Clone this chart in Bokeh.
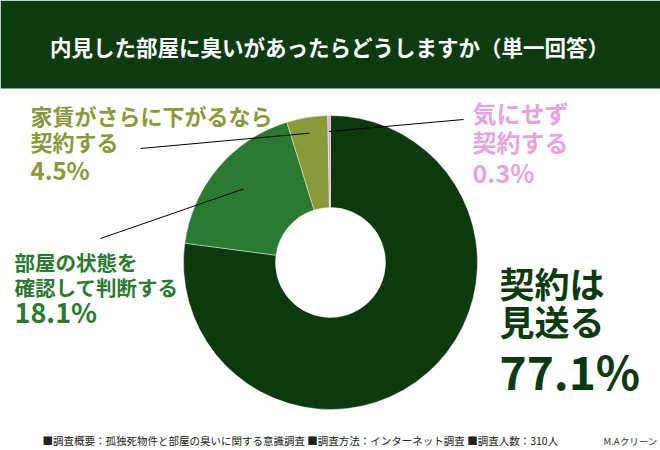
import numpy as np
from bokeh.plotting import figure
from bokeh.models import ColumnDataSource, Range1d
from bokeh.core.properties import value
from bokeh.embed import file_html
from bokeh.resources import INLINE

# ---------------- data ----------------
title = "内見した部屋に臭いがあったらどうしますか（単一回答）"
categories = ["契約は見送る", "部屋の状態を確認して判断する",
              "家賃がさらに下がるなら契約する", "気にせず契約する"]
label_lines = [["契約は", "見送る"],
               ["部屋の状態を", "確認して判断する"],
               ["家賃がさらに下がるなら", "契約する"],
               ["気にせず", "契約する"]]
values = [77.1, 18.1, 4.5, 0.3]
colors = ["#0b3a0f", "#2a7a2f", "#8a993a", "#e6a3dc"]
footer = "■調査概要：孤独死物件と部屋の臭いに関する意識調査 ■調査方法：インターネット調査 ■調査人数：310人"
credit = "M.Aクリーン"

FONT = "Noto Sans CJK JP"
W, H = 660, 450

def Y(y):
    return H - y

p = figure(width=W, height=H, output_backend="svg", toolbar_location=None,
           x_range=Range1d(0, W), y_range=Range1d(0, H),
           min_border=0, outline_line_color=None,
           background_fill_color="white", border_fill_color="white")
p.axis.visible = False
p.grid.visible = False

# title bar
p.quad(left=[0], right=[W], bottom=[Y(88)], top=[H], fill_color="#0c3b10", line_color=None)
p.text(x=[329], y=[Y(46)], text=[title], text_font=value(FONT), text_font_size=value("21.5px"),
       text_font_style="bold", text_color="white", text_align="center", text_baseline="middle")

# donut
cx, cy = 330, Y(262)
vals = np.array(values)
frac = vals / vals.sum()
cum_end = np.cumsum(frac)
cum_start = cum_end - frac
start = np.pi / 2 - cum_start * 2 * np.pi
end = np.pi / 2 - cum_end * 2 * np.pi
src = ColumnDataSource(dict(start=start, end=end, color=colors, cat=categories))
p.annular_wedge(x=cx, y=cy, inner_radius=55, outer_radius=147, start_angle="start",
                end_angle="end", direction="clock", fill_color="color",
                line_color="white", line_width=0.6, line_alpha=0.7, source=src)

# label layout: x, y centers of lines (image coords), text size, pct size, leader start, leader radius
layout = [
    dict(x=499, ys=[282, 320, 369], fs="35px", ps="46px", lead=None),
    dict(x=14, ys=[261, 286, 311], fs="20.5px", ps="27px", lead=(100, 238, 114)),
    dict(x=30, ys=[114, 140, 169], fs="22px", ps="24px", lead=(140, 148, 131)),
    dict(x=472, ys=[112, 141, 171], fs="24px", ps="25px", lead=(463, 119, 131)),
]

mid = (cum_start + cum_end) / 2
for i, L in enumerate(layout):
    lines = label_lines[i]
    for j, t in enumerate(lines):
        p.text(x=[L["x"]], y=[Y(L["ys"][j])], text=[t], text_font=value(FONT),
               text_font_size=value(L["fs"]), text_font_style="bold", text_color=colors[i],
               text_align="left", text_baseline="middle")
    p.text(x=[L["x"]], y=[Y(L["ys"][2])], text=[f"{values[i]}%"], text_font=value(FONT),
           text_font_size=value(L["ps"]), text_font_style="bold", text_color=colors[i],
           text_align="left", text_baseline="middle")
    if L["lead"] is not None:
        lx, ly, r = L["lead"]
        ang = mid[i] * 2 * np.pi
        ex = cx + r * np.sin(ang)
        ey = cy + r * np.cos(ang)
        p.line(x=[lx, ex], y=[Y(ly), ey], line_color="black", line_width=1)

# footer
p.text(x=[42], y=[Y(440)], text=[footer], text_font=value(FONT), text_font_size=value("10.5px"),
       text_color="#222222", text_align="left", text_baseline="middle")
p.text(x=[603], y=[Y(440)], text=[credit], text_font=value(FONT), text_font_size=value("9.5px"),
       text_color="#333333", text_align="left", text_baseline="middle")

open("out.html", "w").write(file_html(p, INLINE))
